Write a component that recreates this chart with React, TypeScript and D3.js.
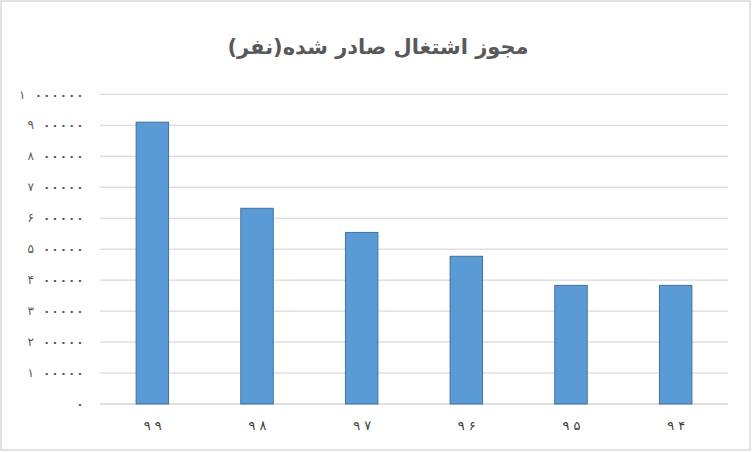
import React from "react";
import * as d3 from "d3";

// years (Persian calendar) and issued permits (persons)
const years: string[] = ["۹۹", "۹۸", "۹۷", "۹۶", "۹۵", "۹۴"];
const permits: number[] = [910000, 632000, 554000, 477000, 383000, 383000];
const yTicks: number[] = [0, 100000, 200000, 300000, 400000, 500000, 600000, 700000, 800000, 900000, 1000000];

const title = "مجوز اشتغال صادر شده(نفر)";

const persianDigits = "۰۱۲۳۴۵۶۷۸۹";
const toPersian = (n: number) =>
  String(n).replace(/[0-9]/g, (d) => persianDigits[+d]);

const width = 752;
const height = 452;
const margin = { top: 94.3, right: 24, bottom: 48, left: 100 };

// the chart font spaces its digits widely; lay them out one by one,
// right-aligned at `right`. zeros are narrow, other digits wider
function spacedDigits(str: string, right: number) {
  const chars = Array.from(str);
  const out: { ch: string; x: number }[] = [];
  let x = right;
  for (let i = chars.length - 1; i >= 0; i--) {
    const ch = chars[i];
    if (i < chars.length - 1) {
      x -= ch === "۰" ? 8.33 : 16;
    }
    out.push({ ch, x });
  }
  return out;
}

const App = () => {
  const x = d3
    .scaleBand<string>()
    .domain(years)
    .range([margin.left, width - margin.right])
    .paddingInner(0.69)
    .paddingOuter(0.345);
  const y = d3
    .scaleLinear()
    .domain([0, 1000000])
    .range([height - margin.bottom, margin.top]);

  const fontFamily = "'DejaVu Sans', sans-serif";

  return (
    <svg
      width={width}
      height={height}
      style={{ position: "absolute", left: 0, top: 0, background: "#fff" }}
    >
      <rect x={1} y={1} width={width - 3} height={height - 3} fill="#fff" stroke="#d9d9d9" strokeWidth={1.5} />

      <text
        x={378}
        y={54}
        textAnchor="middle"
        fontFamily={fontFamily}
        fontWeight="bold"
        fontSize={21}
        fill="#595959"
        direction="rtl"
      >
        {title}
      </text>

      {/* gridlines */}
      {yTicks.map((t) => (
        <line
          key={t}
          x1={margin.left}
          x2={width - margin.right}
          y1={y(t)}
          y2={y(t)}
          stroke={t === 0 ? "#bfbfbf" : "#d0d0d0"}
          strokeWidth={1}
        />
      ))}

      {/* y tick labels */}
      {yTicks.map((t) => (
        <g key={"l" + t}>
          {spacedDigits(toPersian(t), 80).map((d, k) => (
            <text
              key={k}
              x={d.x}
              y={y(t)}
              dy="0.35em"
              textAnchor="middle"
              fontFamily={fontFamily}
              fontSize={12}
              fontWeight={d.ch === "۰" ? "bold" : "normal"}
              fill="#595959"
            >
              {d.ch}
            </text>
          ))}
        </g>
      ))}

      {/* bars */}
      {years.map((yr, i) => (
        <rect
          key={yr}
          x={x(yr)}
          y={y(permits[i])}
          width={x.bandwidth()}
          height={y(0) - y(permits[i])}
          fill="#5b9bd5"
          stroke="#41719c"
          strokeWidth={1}
        />
      ))}

      {/* category labels */}
      {years.map((yr) => {
        const cx = (x(yr) as number) + x.bandwidth() / 2;
        return (
          <g key={"c" + yr}>
            {Array.from(yr).map((ch, k) => (
              <text
                key={k}
                x={cx + (k === 0 ? -5 : 6)}
                y={425}
                dy="0.35em"
                textAnchor="middle"
                fontFamily={fontFamily}
                fontSize={13}
                fill="#404040"
              >
                {ch}
              </text>
            ))}
          </g>
        );
      })}
    </svg>
  );
};

export default App;
